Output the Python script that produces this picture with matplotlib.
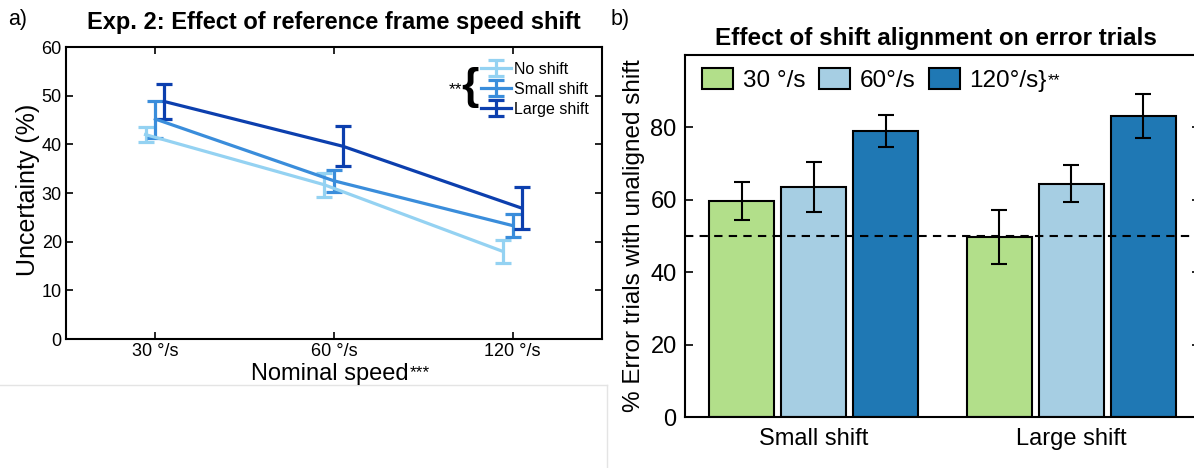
import matplotlib
matplotlib.use('Agg')
import matplotlib.pyplot as plt
import numpy as np

plt.rcParams['font.family'] = ['Liberation Sans', 'DejaVu Sans']

W, H = 1194, 468

# panel a) data
speeds = ['30 °/s', '60 °/s', '120 °/s']
shift_names = ['No shift', 'Small shift', 'Large shift']
no_shift = [42.0, 31.7, 18.0]
no_shift_err = [1.5, 2.5, 2.3]
small_shift = [45.2, 32.5, 23.3]
small_shift_err = [3.8, 2.2, 2.4]
large_shift = [48.8, 39.6, 26.9]
large_shift_err = [3.6, 4.1, 4.3]
shift_colors = ['#94d2f2', '#3a8ddb', '#0c3fae']
shift_offsets = [-0.055, 0.0, 0.05]

# panel b) data
groups = ['Small shift', 'Large shift']
bar_labels = ['30 °/s', '60°/s', '120°/s}']
pct_30 = [59.6, 49.8]
pct_30_err = [5.2, 7.4]
pct_60 = [63.5, 64.4]
pct_60_err = [7.0, 5.1]
pct_120 = [79.0, 83.2]
pct_120_err = [4.3, 6.0]
bar_colors = ['#b2df8a', '#a6cee3', '#1f78b4']
chance = 50


def px(x, y):
    return x / W, 1 - y / H


fig = plt.figure(figsize=(W / 100, H / 100), dpi=100, facecolor='white')

# ---------------- panel a ----------------
ax1 = fig.add_axes([66 / W, 1 - 339 / H, 536 / W, 292 / H])
x = np.arange(1, len(speeds) + 1)
series = [(no_shift, no_shift_err), (small_shift, small_shift_err), (large_shift, large_shift_err)]
for (vals, errs), name, col, off in zip(series, shift_names, shift_colors, shift_offsets):
    ax1.errorbar(x + off, vals, yerr=errs, color=col, lw=2.3, elinewidth=2.3,
                 capsize=6, capthick=2.3, label=name)
ax1.set_xlim(0.5, 3.5)
ax1.set_ylim(0, 60)
ax1.set_xticks(x)
ax1.set_xticklabels(speeds)
ax1.set_yticks(np.arange(0, 61, 10))
ax1.tick_params(direction='in', top=True, right=True, labelsize=13, length=5, width=1.2)
ax1.tick_params(axis='x', pad=3)
ax1.tick_params(axis='y', pad=3)
for s in ax1.spines.values():
    s.set_linewidth(1.5)
leg1 = ax1.legend(loc='upper right', bbox_to_anchor=(0.975, 0.95), frameon=False,
                  fontsize=11.5, handlelength=1.9, handletextpad=0.15, labelspacing=0.32,
                  borderpad=0, borderaxespad=0)
for h in leg1.legend_handles:
    for art in h.get_children():
        try:
            art.set_linewidth(1.6)
        except AttributeError:
            pass

fig.text(*px(334, 22), 'Exp. 2: Effect of reference frame speed shift', ha='center', va='center',
         fontsize=17, fontweight='bold')
fig.text(*px(8, 20), 'a)', ha='left', va='center', fontsize=15.5)
fig.text(*px(28, 190), 'Uncertainty (%)', rotation=90, ha='center', va='center', fontsize=18)
xl = fig.text(*px(330, 380), 'Nominal speed', ha='center', va='baseline', fontsize=17)
fig.text(*px(470, 88), '{', ha='center', va='center', fontsize=32, fontweight='bold')
fig.text(*px(455, 90), '**', ha='center', va='center', fontsize=12.5)

# faint frame of the original panel image
fig.add_artist(plt.Line2D([0, 607 / W], [1 - 385 / H] * 2, color='#e4e4e4', lw=1))
fig.add_artist(plt.Line2D([607 / W] * 2, [1 - 385 / H, 0], color='#e4e4e4', lw=1))

# ---------------- panel b ----------------
ax2 = fig.add_axes([685 / W, 1 - 417 / H, 515 / W, 362 / H])
gx = np.arange(1, len(groups) + 1)
step, width = 0.28, 0.252
bars = [(pct_30, pct_30_err), (pct_60, pct_60_err), (pct_120, pct_120_err)]
for i, ((vals, errs), lab, col) in enumerate(zip(bars, bar_labels, bar_colors)):
    ax2.bar(gx + (i - 1) * step, vals, width, yerr=errs, color=col, edgecolor='black',
            linewidth=1.5, label=lab,
            error_kw=dict(ecolor='black', elinewidth=1.5, capsize=6, capthick=1.5))
ax2.axhline(chance, color='black', lw=1.5, ls=(0, (4, 3)), zorder=5)
ax2.set_xlim(0.5, 2.5)
ax2.set_ylim(0, 100)
ax2.set_xticks(gx)
ax2.set_xticklabels(groups)
ax2.set_yticks(np.arange(0, 81, 20))
ax2.tick_params(axis='y', direction='in', right=True, labelsize=17, length=6, width=1.2, pad=6)
ax2.tick_params(axis='x', length=0, labelsize=17, pad=8)
for s in ax2.spines.values():
    s.set_linewidth(1.5)
ax2.set_ylabel('% Error trials with unaligned shift', fontsize=17.5, labelpad=4)
leg2 = ax2.legend(loc='center left', bbox_to_anchor=((702 - 685) / 515, (417 - 80) / 362),
                  ncol=3, frameon=False, fontsize=17.5, handlelength=1.28, handleheight=0.95,
                  handletextpad=0.4, columnspacing=0.55, borderpad=0, borderaxespad=0)
for p in leg2.get_patches():
    p.set_linewidth(1.5)

fig.text(*px(936, 38), 'Effect of shift alignment on error trials', ha='center', va='center',
         fontsize=17.5, fontweight='bold')
fig.text(*px(611, 20), 'b)', ha='left', va='center', fontsize=15.5)

# superscript stars placed after rendered text
fig.canvas.draw()
r = fig.canvas.get_renderer()
inv = fig.transFigure.inverted()
bb = xl.get_window_extent(r)
x0, y0 = inv.transform((bb.x1 + 1, bb.y1 - 2))
fig.text(x0, y0, '***', ha='left', va='top', fontsize=12.5)
bb = leg2.get_texts()[2].get_window_extent(r)
x0, y0 = inv.transform((bb.x1 + 1, (bb.y0 + bb.y1) / 2))
fig.text(x0, y0, '**', ha='left', va='center', fontsize=11.5)

fig.savefig('out.png', dpi=100)
